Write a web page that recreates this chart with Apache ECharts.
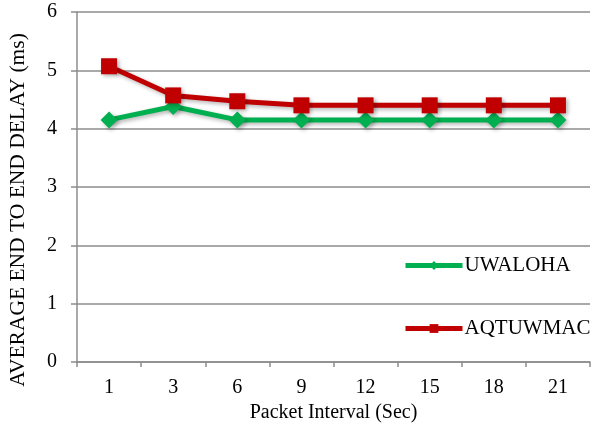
<!DOCTYPE html>
<html>
<head>
<meta charset="utf-8">
<script src="https://cdn.jsdelivr.net/npm/echarts@6/dist/echarts.min.js"></script>
<style>
  html, body { margin: 0; padding: 0; background: #fff; }
  #chart { width: 602px; height: 434px; }
</style>
</head>
<body>
<div id="chart"></div>
<script>
// Packet interval (s) on the x axis
const intervals = ['1', '3', '6', '9', '12', '15', '18', '21'];
// Average end-to-end delay (ms) per protocol
const uwaloha = [4.15, 4.38, 4.15, 4.15, 4.15, 4.15, 4.15, 4.15];
const aqtuwmac = [5.07, 4.57, 4.47, 4.4, 4.4, 4.4, 4.4, 4.4];
const yTicks = [0, 1, 2, 3, 4, 5, 6];
const yTitle = 'AVERAGE END TO END DELAY (ms)';

const serif = '"Liberation Serif", "Times New Roman", serif';
const shadow = { shadowColor: 'rgba(0,0,0,0.3)', shadowBlur: 4, shadowOffsetX: 2, shadowOffsetY: 2 };
const gridColor = '#8c8c8c';

const chart = echarts.init(document.getElementById('chart'), null, { renderer: 'canvas' });
chart.setOption({
  animation: false,
  textStyle: { fontFamily: serif },
  grid: { left: 77, right: 12, top: 12, bottom: 72, containLabel: false },
  graphic: [{
    type: 'text',
    x: 18,
    y: 210,
    rotation: Math.PI / 2,
    style: {
      text: yTitle,
      font: '21.5px ' + serif,
      fill: '#000',
      align: 'center',
      verticalAlign: 'middle'
    }
  }],
  legend: {
    orient: 'vertical',
    left: 403,
    top: 255,
    padding: 0,
    itemGap: 42,
    itemWidth: 57,
    itemHeight: 11,
    textStyle: { fontFamily: serif, fontSize: 21, color: '#000', padding: [0, 0, 0, -3] },
    data: [
      { name: 'UWALOHA', itemStyle: { color: '#00B050' }, lineStyle: { color: '#00B050', width: 5 } },
      { name: 'AQTUWMAC', itemStyle: { color: '#C00000' }, lineStyle: { color: '#C00000', width: 5 } }
    ]
  },
  xAxis: {
    type: 'category',
    data: intervals,
    boundaryGap: true,
    name: 'Packet Interval (Sec)',
    nameLocation: 'middle',
    nameGap: 38,
    nameTextStyle: { fontFamily: serif, fontSize: 20, color: '#000' },
    axisLine: { lineStyle: { color: gridColor, width: 1.5 } },
    axisTick: { show: true, length: 5, alignWithLabel: false, lineStyle: { color: gridColor, width: 1.5 } },
    axisLabel: { fontFamily: serif, fontSize: 20, color: '#000', margin: 16 }
  },
  yAxis: {
    type: 'value',
    min: yTicks[0],
    max: yTicks[yTicks.length - 1],
    interval: 1,
    axisLine: { show: true, lineStyle: { color: gridColor, width: 1.5 } },
    axisTick: { show: true, length: 6, lineStyle: { color: gridColor, width: 1.5 } },
    axisLabel: { fontFamily: serif, fontSize: 20, color: '#000', margin: 20 },
    splitLine: { show: true, lineStyle: { color: gridColor, width: 1.5 } }
  },
  series: [
    {
      name: 'UWALOHA',
      type: 'line',
      data: uwaloha,
      symbol: 'diamond',
      symbolSize: 17,
      lineStyle: Object.assign({ color: '#00B050', width: 5 }, shadow),
      itemStyle: Object.assign({ color: '#00B050' }, shadow)
    },
    {
      name: 'AQTUWMAC',
      type: 'line',
      data: aqtuwmac,
      symbol: 'rect',
      symbolSize: 16,
      lineStyle: Object.assign({ color: '#C00000', width: 5 }, shadow),
      itemStyle: Object.assign({ color: '#C00000' }, shadow)
    }
  ]
});
</script>
</body>
</html>
